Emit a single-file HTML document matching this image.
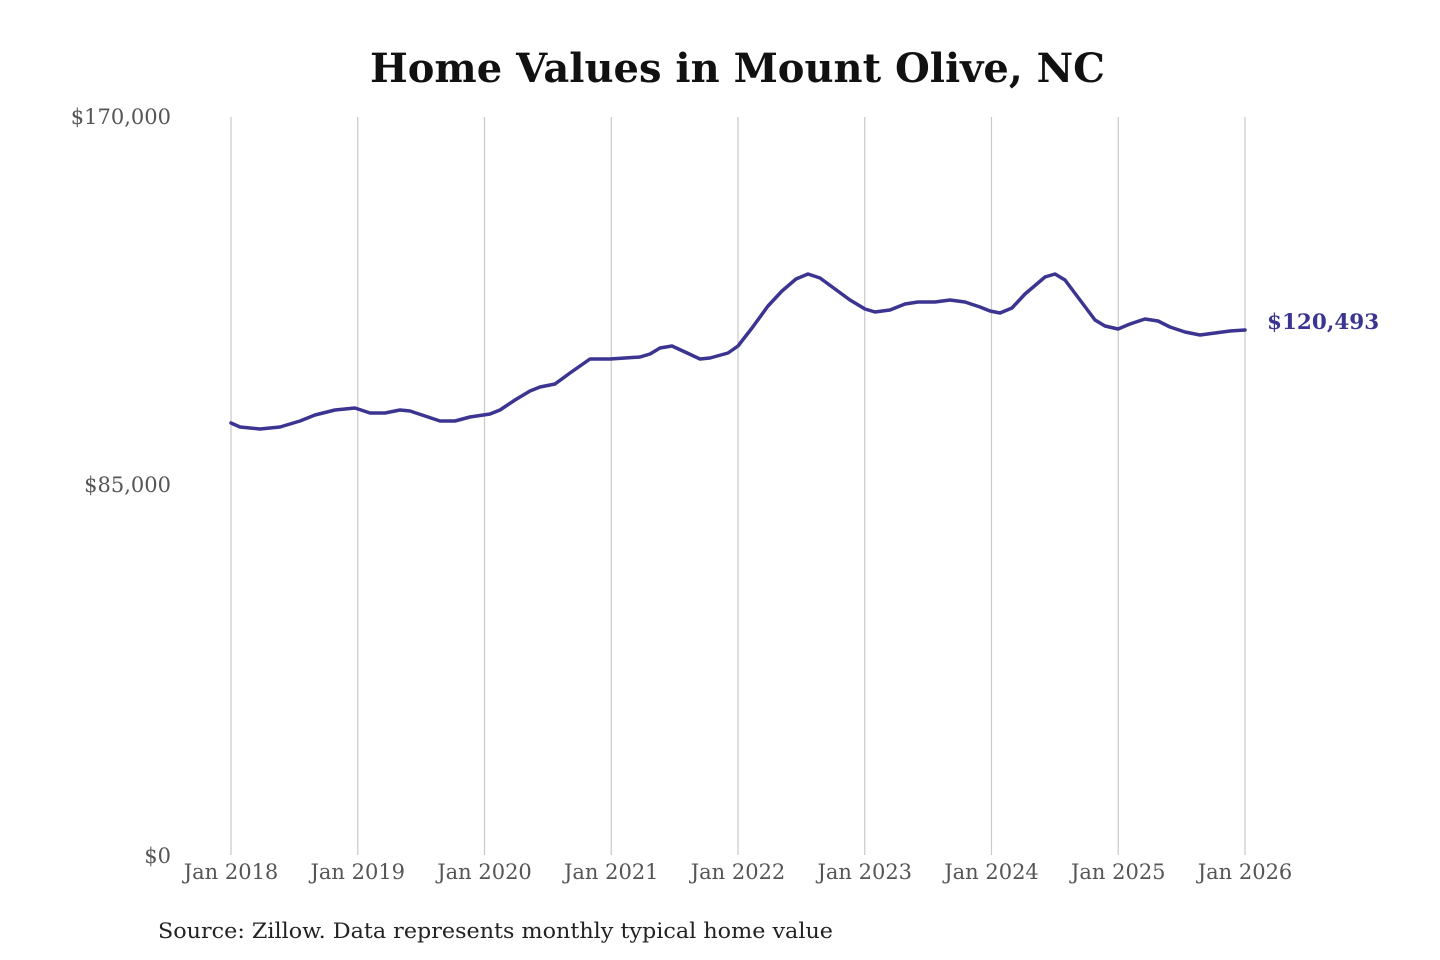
<!DOCTYPE html>
<html><head><meta charset="utf-8"><style>
html,body{margin:0;padding:0;background:#fff;}
svg{display:block;}
</style></head><body>
<svg width="1440" height="960" xmlns="http://www.w3.org/2000/svg">
<rect width="1440" height="960" fill="#fff"/>
<text x="370" y="82" textLength="735" lengthAdjust="spacingAndGlyphs" font-family="DejaVu Serif, serif" font-weight="bold" font-size="40" fill="#111">Home Values in Mount Olive, NC</text>
<g stroke="#c8c8c8" stroke-width="1.2">
<line x1="231" y1="117" x2="231" y2="855"/><line x1="357.75" y1="117" x2="357.75" y2="855"/>
<line x1="484.5" y1="117" x2="484.5" y2="855"/><line x1="611.25" y1="117" x2="611.25" y2="855"/>
<line x1="738" y1="117" x2="738" y2="855"/><line x1="864.75" y1="117" x2="864.75" y2="855"/>
<line x1="991.5" y1="117" x2="991.5" y2="855"/><line x1="1118.25" y1="117" x2="1118.25" y2="855"/>
<line x1="1245" y1="117" x2="1245" y2="855"/>
</g>
<g font-family="DejaVu Serif, serif" font-size="21" fill="#555" text-anchor="end">
<text x="171" y="124">$170,000</text>
<text x="171" y="492">$85,000</text>
<text x="171" y="863">$0</text>
</g>
<g font-family="DejaVu Serif, serif" font-size="21" fill="#555" text-anchor="middle">
<text x="231" y="879">Jan 2018</text><text x="357.75" y="879">Jan 2019</text>
<text x="484.5" y="879">Jan 2020</text><text x="611.25" y="879">Jan 2021</text>
<text x="738" y="879">Jan 2022</text><text x="864.75" y="879">Jan 2023</text>
<text x="991.5" y="879">Jan 2024</text><text x="1118.25" y="879">Jan 2025</text>
<text x="1245" y="879">Jan 2026</text>
</g>
<polyline fill="none" stroke="#3b3491" stroke-width="3.5" stroke-linejoin="round" stroke-linecap="round" points="231,423 240,427 260,429 280,427 300,421 315,415 335,410 355,408 370,413 385,413 400,410 410,411 425,416 440,421 455,421 470,417 490,414 500,410 515,400 530,391 540,387 555,384 570,373 590,359 610,359 625,358 640,357 650,354 660,348 672,346 685,352 700,359 710,358 728,353 738,346 752,328 768,306 782,291 796,279 808,274 820,278 835,289 850,300 865,309 875,312 890,310 905,304 918,302 935,302 950,300 965,302 980,307 990,311 1000,313 1012,308 1025,294 1045,277 1055,274 1065,280 1080,300 1095,320 1105,326 1118,329 1130,324 1145,319 1158,321 1170,327 1185,332 1200,335 1215,333 1230,331 1245,330"/>
<text x="1267" y="329" font-family="DejaVu Serif, serif" font-weight="bold" font-size="21.5" fill="#3b3491">$120,493</text>
<text x="158" y="938" textLength="675" lengthAdjust="spacingAndGlyphs" font-family="DejaVu Serif, serif" font-size="21" fill="#222">Source: Zillow. Data represents monthly typical home value</text>
</svg>
</body></html>
